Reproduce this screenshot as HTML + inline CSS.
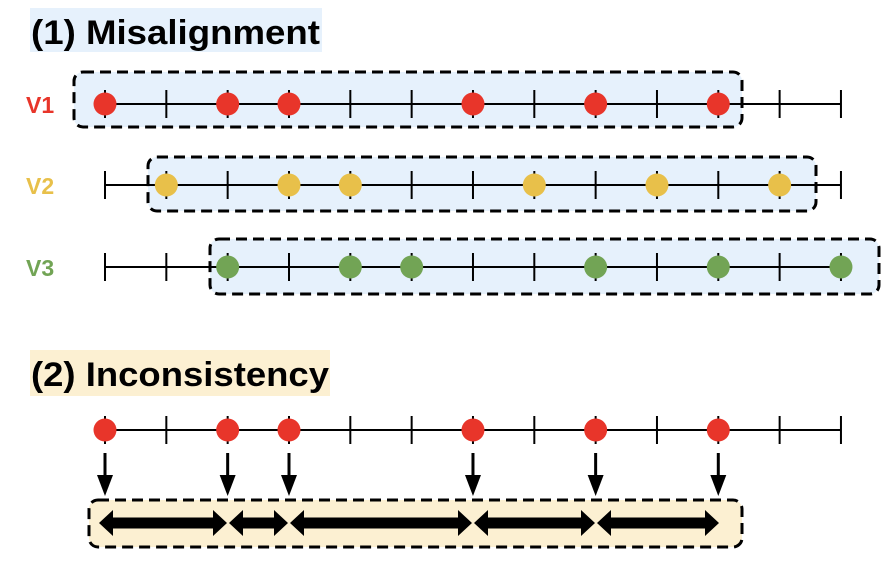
<!DOCTYPE html>
<html><head><meta charset="utf-8"><style>
html,body{margin:0;padding:0;background:#fff;width:896px;height:572px;overflow:hidden}
svg{display:block}
</style></head><body>
<svg id="s" width="896" height="572" viewBox="0 0 896 572" xmlns="http://www.w3.org/2000/svg">
<rect x="30" y="8" width="292" height="44" fill="#e6f1fc"/>
<text x="31" y="44" font-family="Liberation Sans, sans-serif" font-weight="bold" font-size="34" textLength="289" lengthAdjust="spacingAndGlyphs" fill="#000">(1) Misalignment</text>
<rect x="30" y="350" width="300" height="46" fill="#fcf0d2"/>
<text x="31" y="386" font-family="Liberation Sans, sans-serif" font-weight="bold" font-size="34" textLength="298" lengthAdjust="spacingAndGlyphs" fill="#000">(2) Inconsistency</text>
<text x="26" y="113" font-family="Liberation Sans, sans-serif" font-weight="bold" font-size="23" fill="#e8352a">V1</text>
<text x="26" y="194" font-family="Liberation Sans, sans-serif" font-weight="bold" font-size="23" fill="#e8c04a">V2</text>
<text x="26" y="276" font-family="Liberation Sans, sans-serif" font-weight="bold" font-size="23" fill="#72a455">V3</text>
<g id="g"></g>
</svg>
<script>
var NS="http://www.w3.org/2000/svg",g=document.getElementById('g');
function el(t,a){var e=document.createElementNS(NS,t);for(var k in a)e.setAttribute(k,a[k]);g.appendChild(e);return e;}
function X(i){return 105+i*61.33;}
function box(x,y,w,h,f){el('rect',{x:x,y:y,width:w,height:h,rx:9,fill:f,stroke:'#000','stroke-width':3,'stroke-dasharray':'11,6'});}
function line(y,dots,col){
 el('line',{x1:X(0),y1:y,x2:X(12),y2:y,stroke:'#000','stroke-width':2});
 for(var i=0;i<13;i++)el('line',{x1:X(i),y1:y-14,x2:X(i),y2:y+14,stroke:'#000','stroke-width':2});
 dots.forEach(function(i){el('circle',{cx:X(i),cy:y,r:11.5,fill:col});});
}
box(74,72,668,55,'#e6f1fc');
box(148,157,668,54,'#e6f1fc');
box(210,239,669,55,'#e6f1fc');
line(104,[0,2,3,6,8,10],'#e8352a');
line(185,[1,3,4,7,9,11],'#e8c04a');
line(267,[2,4,5,8,10,12],'#72a455');
box(89,500,653,47,'#fcf0d2');
var d=[0,2,3,6,8,10];
line(430,d,'#e8352a');
d.forEach(function(i){var x=X(i);
 el('line',{x1:x,y1:453,x2:x,y2:482,stroke:'#000','stroke-width':3});
 el('polygon',{points:(x-8)+',475 '+(x+8)+',475 '+x+',496',fill:'#000'});
});
var xs=[98,228,289,473,596,720];
for(var j=0;j<5;j++){var a=xs[j]+1,b=xs[j+1]-1,y=523,h=13,s=5.5,w=14;
 var p=[a,y,a+w,y-h,a+w,y-s,b-w,y-s,b-w,y-h,b,y,b-w,y+h,b-w,y+s,a+w,y+s,a+w,y+h];
 var str='';for(var k=0;k<p.length;k+=2)str+=p[k]+','+p[k+1]+' ';
 el('polygon',{points:str,fill:'#000'});
}
</script>
</body></html>
